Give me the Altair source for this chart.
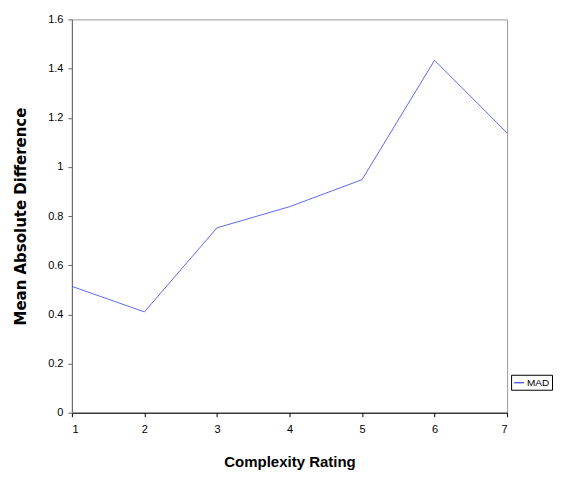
import altair as alt
import pandas as pd

ratings = [1, 2, 3, 4, 5, 6, 7]
mad = [0.514, 0.410, 0.752, 0.838, 0.948, 1.434, 1.138]
series = ["MAD"] * len(ratings)

df = pd.DataFrame({"Complexity Rating": ratings, "MAD": mad, "series": series})

chart = alt.Chart(df).mark_line(strokeWidth=0.8).encode(
    x=alt.X("Complexity Rating:Q",
            scale=alt.Scale(domain=[1, 7], nice=False, zero=False),
            axis=alt.Axis(values=ratings, format="d", title="Complexity Rating",
                          grid=False, domainColor="#000000", tickColor="#000000",
                          tickSize=4, labelPadding=7, titlePadding=20,
                          labelFontSize=11, titleFontSize=15,
                          titleFont="Liberation Sans")),
    y=alt.Y("MAD:Q",
            scale=alt.Scale(domain=[0, 1.6], nice=False),
            axis=alt.Axis(values=[0, 0.2, 0.4, 0.6, 0.8, 1, 1.2, 1.4, 1.6],
                          format="~g", title="Mean Absolute Difference",
                          grid=False, domainColor="#666666", tickColor="#666666",
                          tickSize=4, labelPadding=5, titlePadding=19,
                          labelFontSize=11, titleFontSize=15,
                          titleFont="DejaVu Sans")),
    color=alt.Color("series:N",
                    scale=alt.Scale(domain=["MAD"], range=["#3344ee"]),
                    legend=alt.Legend(title=None, orient="none", legendX=440, legendY=356,
                                      symbolType="stroke", symbolSize=100,
                                      symbolStrokeWidth=1.2,
                                      strokeColor="#000000", padding=2,
                                      labelFontSize=10, labelColor="#000000",
                                      labelOffset=2))
).properties(width=436, height=394).configure_axis(
    labelFont="Liberation Sans",
    labelColor="#000000", titleColor="#000000", titleFontWeight="bold"
).configure_legend(
    labelFont="Liberation Sans"
).configure_view(
    stroke="#999999", strokeWidth=1
)

chart.save("out.html", embed_options={"renderer": "svg", "actions": False})
